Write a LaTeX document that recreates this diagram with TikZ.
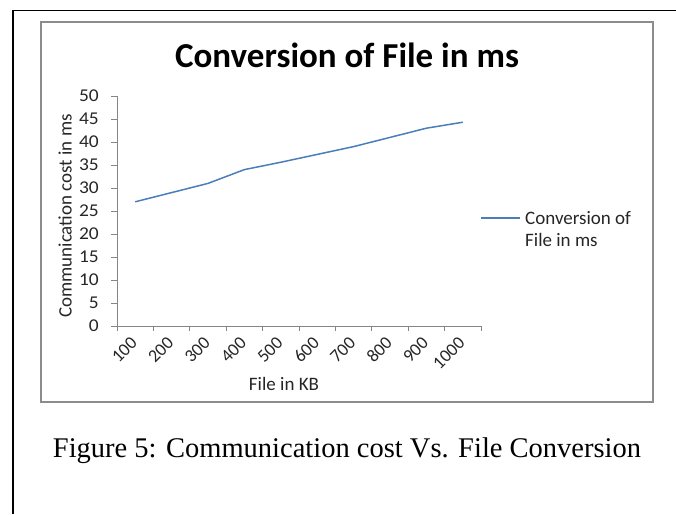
\documentclass[tikz,border=0pt]{standalone}
\usepackage{fontspec}
\setmainfont{Carlito}
\newfontfamily\capfont{Liberation Serif}
\definecolor{serblue}{HTML}{4A7EBB}
\definecolor{axgray}{HTML}{868686}
\definecolor{boxgray}{HTML}{8C8C8C}
\definecolor{lblgray}{HTML}{262626}
\tikzset{
  axisline/.style={axgray, line width=0.9pt},
  ticklbl/.style={font=\fontsize{18}{20}\selectfont, text=lblgray, inner sep=0pt},
  serline/.style={serblue, line width=1.5pt, line join=round},
}
\begin{document}
\begin{tikzpicture}[x=1pt,y=-1pt]
\useasboundingbox (0,0) rectangle (676,514);
% outer frame
\draw[line width=1.8pt] (13,514) -- (13,10.5) -- (676,10.5);
% chart area
\draw[boxgray, line width=1.6pt] (41,22) rectangle (653,402);
% title
\node[font=\bfseries\fontsize{35}{40}\selectfont, inner sep=0pt] (title) at (347,55) {Conversion of File in ms};
% axes
\coordinate (o) at (117,326);
\coordinate (ytop) at (117,96);
\coordinate (xend) at (481,326);
\draw[axisline] (ytop) -- (o) -- (xend);
\foreach \k in {0,...,10}{
  \draw[axisline] (111,326-23*\k) -- (117,326-23*\k);
  \pgfmathtruncatemacro\v{5*\k}
  \node[ticklbl, anchor=east, xscale=1.08] (yl\k) at (99,326-23*\k) {\v};
}
\foreach \k in {0,...,10}{
  \draw[axisline] (117+36.4*\k,326) -- (117+36.4*\k,331);
}
\foreach \k [count=\i] in {100,200,300,400,500,600,700,800,900,1000}{
  \node[ticklbl, anchor=east, rotate=45] (xl\i) at (117+36.4*\i-18.2-1,340) {\k};
}
% axis titles
\node[font=\fontsize{19}{22}\selectfont, text=lblgray, inner sep=0pt, rotate=90] (ytitle) at (65,216) {Communication cost in ms};
\node[font=\fontsize{19}{22}\selectfont, text=lblgray, inner sep=0pt] (xtitle) at (284,384) {File in KB};
% series
\draw[serline] (135.2,326-27*4.6) -- (171.6,326-29*4.6) -- (208,326-31*4.6) -- (244.4,326-34*4.6)
  -- (280.8,326-35.6*4.6) -- (317.2,326-37.3*4.6) -- (353.6,326-39*4.6) -- (390,326-41*4.6)
  -- (426.4,326-43*4.6) -- (462.8,326-44.3*4.6);
% legend
\coordinate (lg1) at (481,218);
\coordinate (lg2) at (520,218);
\draw[serline] (lg1) -- (lg2);
\node[font=\fontsize{19}{22}\selectfont, text=lblgray, inner sep=0pt, anchor=west, align=left] (legend) at (525,229) {Conversion of\\File in ms};
% caption
\node[font=\capfont\fontsize{28.5}{32}\selectfont, inner sep=0pt] (caption) at (347,451) {Figure 5: Communication cost Vs. File Conversion};
\end{tikzpicture}
\end{document}
